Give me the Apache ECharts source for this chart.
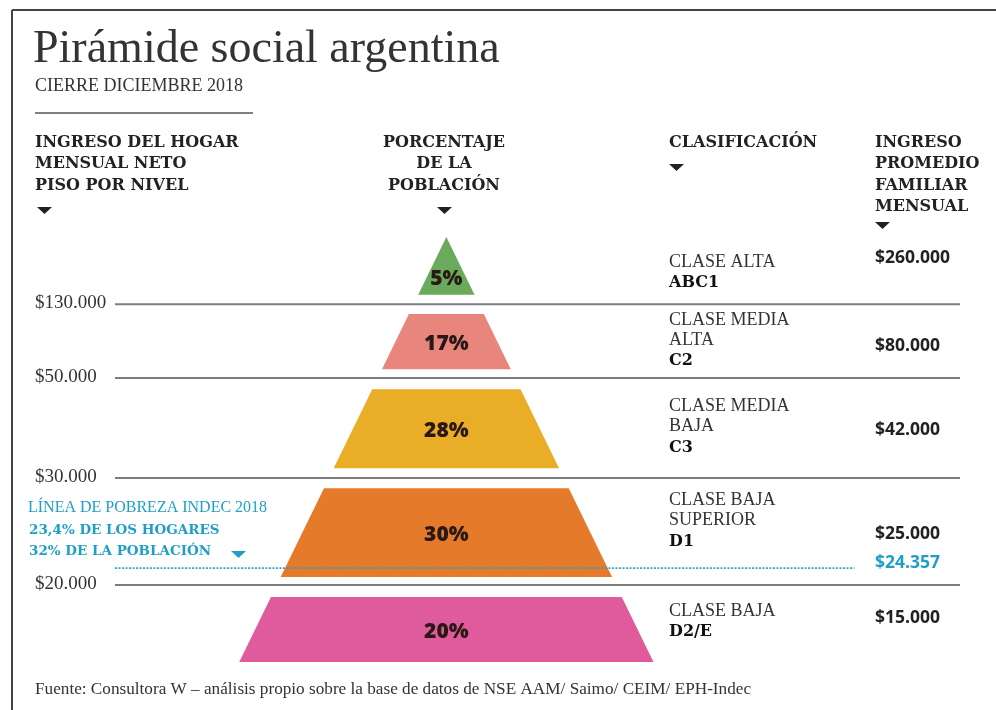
<!DOCTYPE html>
<html><head><meta charset="utf-8">
<script src="https://cdn.jsdelivr.net/npm/echarts@6/dist/echarts.min.js"></script>
<style>html,body{margin:0;padding:0;background:#fff}#c{width:996px;height:710px}</style>
</head><body><div id="c"></div>
<script>
// ---- data ----
const clasificacion = ['CLASE ALTA', 'CLASE MEDIA\nALTA', 'CLASE MEDIA\nBAJA', 'CLASE BAJA\nSUPERIOR', 'CLASE BAJA'];
const codigos = ['ABC1', 'C2', 'C3', 'D1', 'D2/E'];
const porcentajePoblacion = [5, 17, 28, 30, 20];
const ingresoPromedio = [260000, 80000, 42000, 25000, 15000];
const ingresoPiso = [130000, 50000, 30000, 20000];
const lineaPobreza = 24357;
const pobrezaTexto = ['LÍNEA DE POBREZA INDEC 2018', '23,4% DE LOS HOGARES', '32% DE LA POBLACIÓN'];

// ---- layout (fractions of pyramid height, apex = 0, base = 1) ----
const bandEdges = [[0, 0.136], [0.181, 0.311], [0.358, 0.544], [0.591, 0.8], [0.847, 1]];
const sepY = [0.158, 0.332, 0.567, 0.819];
const povY = 0.779;
const classLabelY = [0.059, 0.195, 0.398, 0.619, 0.88];
const amountY = [0.049, 0.256, 0.454, 0.699, 0.896];
const povAmountY = 0.767;
const bandColors = ['#69aa5b', '#e8867e', '#e9ad28', '#e57a2a', '#df5b9b'];
const X_MIN = -1.6, X_MAX = 2.48;

const SERIF = '"Liberation Serif", serif';
const SLAB = '"DejaVu Serif", serif';
const SANS = '"Open Sans", sans-serif';
const CYAN = '#1f9fc8';
const fmt = v => '$' + String(v).replace(/\B(?=(\d{3})+(?!\d))/g, '.');

const chart = echarts.init(document.getElementById('c'), null, {renderer: 'canvas'});

function tri(x, y, color) {
  return {type: 'polygon', shape: {points: [[x, y], [x + 15, y], [x + 7.5, y + 7]]}, style: {fill: color}};
}
function txt(x, y, text, font, color, align) {
  return {type: 'text', x: x, y: y, style: {text: text, font: font, fill: color || '#222', align: align || 'left', verticalAlign: 'middle'}};
}

const graphics = [
  {type: 'line', shape: {x1: 12, y1: 10, x2: 996, y2: 10}, style: {stroke: '#444', lineWidth: 2}},
  {type: 'line', shape: {x1: 12, y1: 10, x2: 12, y2: 710}, style: {stroke: '#444', lineWidth: 2}},
  txt(33, 50, 'Pirámide social argentina', '46px ' + SERIF, '#333'),
  txt(35, 86, 'CIERRE DICIEMBRE 2018', '18px ' + SERIF, '#333'),
  {type: 'line', shape: {x1: 35, y1: 113, x2: 253, y2: 113}, style: {stroke: '#555', lineWidth: 1.5}},
  txt(35, 143, 'INGRESO DEL HOGAR', 'bold 16px ' + SLAB),
  txt(35, 164, 'MENSUAL NETO', 'bold 16px ' + SLAB),
  txt(35, 186, 'PISO POR NIVEL', 'bold 16px ' + SLAB),
  tri(37, 207, '#222'),
  txt(444, 143, 'PORCENTAJE', 'bold 16px ' + SLAB, '#222', 'center'),
  txt(444, 164, 'DE LA', 'bold 16px ' + SLAB, '#222', 'center'),
  txt(444, 186, 'POBLACIÓN', 'bold 16px ' + SLAB, '#222', 'center'),
  tri(437, 207, '#222'),
  txt(669, 143, 'CLASIFICACIÓN', 'bold 16px ' + SLAB),
  tri(669, 164, '#222'),
  txt(875, 143, 'INGRESO', 'bold 16px ' + SLAB),
  txt(875, 164, 'PROMEDIO', 'bold 16px ' + SLAB),
  txt(875, 186, 'FAMILIAR', 'bold 16px ' + SLAB),
  txt(875, 207, 'MENSUAL', 'bold 16px ' + SLAB),
  tri(875, 222, '#222'),
  txt(35, 689, 'Fuente: Consultora W – análisis propio sobre la base de datos de NSE AAM/ Saimo/ CEIM/ EPH-Indec', '17.2px ' + SERIF, '#333')
];

const option = {
  animation: false,
  backgroundColor: '#fff',
  grid: {left: 115, right: 36, top: 237, bottom: 48},
  xAxis: {type: 'value', min: X_MIN, max: X_MAX, show: false},
  yAxis: {type: 'value', min: 0, max: 1, inverse: true, show: false},
  graphic: graphics,
  series: [
    { // income floor separators + labels
      type: 'custom', z: 1,
      data: ingresoPiso.map((v, i) => [i, v]),
      renderItem: function (params, api) {
        const i = api.value(0);
        const a = api.coord([X_MIN, sepY[i]]), b = api.coord([X_MAX, sepY[i]]);
        return {type: 'group', children: [
          {type: 'line', shape: {x1: a[0], y1: a[1], x2: b[0], y2: b[1]}, style: {stroke: '#7d7d7d', lineWidth: 2}},
          {type: 'text', x: 35, y: a[1] - 1, style: {text: fmt(api.value(1)), font: '19px ' + SERIF, fill: '#333', verticalAlign: 'middle'}}
        ]};
      }
    },
    { // pyramid bands
      type: 'custom', z: 2,
      data: porcentajePoblacion.map((v, i) => [i, v]),
      renderItem: function (params, api) {
        const i = api.value(0);
        const t = bandEdges[i][0], b = bandEdges[i][1];
        const pts = [api.coord([-t, t]), api.coord([t, t]), api.coord([b, b]), api.coord([-b, b])];
        const labY = t === 0 ? t + (b - t) * 0.72 : (t + b) / 2 + 0.006;
        const c = api.coord([0, labY]);
        return {type: 'group', children: [
          {type: 'polygon', shape: {points: pts}, style: {fill: bandColors[i]}},
          {type: 'text', x: c[0], y: c[1], style: {text: api.value(1) + '%', font: '800 21px ' + SANS, fill: '#2a1815', align: 'center', verticalAlign: 'middle'}}
        ]};
      }
    },
    { // poverty line
      type: 'custom', z: 3,
      data: [[0, lineaPobreza]],
      renderItem: function (params, api) {
        const a = api.coord([X_MIN, povY]), b = api.coord([1.97, povY]);
        const ya = api.coord([0, povAmountY])[1];
        return {type: 'group', children: [
          {type: 'line', shape: {x1: a[0], y1: a[1], x2: b[0], y2: b[1]}, style: {stroke: CYAN, lineWidth: 1.6, lineDash: [2, 1.5], opacity: 0.9}},
          {type: 'text', x: 28, y: 508, style: {text: pobrezaTexto[0], font: '16px ' + SERIF, fill: CYAN, verticalAlign: 'middle'}},
          {type: 'text', x: 29, y: 530, style: {text: pobrezaTexto[1], font: 'bold 13.5px ' + SLAB, fill: CYAN, verticalAlign: 'middle'}},
          {type: 'text', x: 29, y: 551, style: {text: pobrezaTexto[2], font: 'bold 13.5px ' + SLAB, fill: CYAN, verticalAlign: 'middle'}},
          {type: 'polygon', shape: {points: [[231, 551], [246, 551], [238.5, 558]]}, style: {fill: CYAN}},
          {type: 'text', x: 875, y: ya, style: {text: fmt(api.value(1)), font: 'bold 17.5px ' + SANS, fill: CYAN, verticalAlign: 'middle'}}
        ]};
      }
    },
    { // classification + average income
      type: 'custom', z: 3,
      data: ingresoPromedio.map((v, i) => [i, v]),
      renderItem: function (params, api) {
        const i = api.value(0);
        const y0 = api.coord([0, classLabelY[i]])[1];
        const ya = api.coord([0, amountY[i]])[1];
        const lines = clasificacion[i].split('\n');
        const ch = lines.map((l, k) => ({type: 'text', x: 669, y: y0 + k * 20.5, style: {text: l, font: '18px ' + SERIF, fill: '#333', verticalAlign: 'middle'}}));
        ch.push({type: 'text', x: 669, y: y0 + lines.length * 20.7, style: {text: codigos[i], font: 'bold 16px ' + SLAB, fill: '#111', verticalAlign: 'middle'}});
        ch.push({type: 'text', x: 875, y: ya, style: {text: fmt(api.value(1)), font: 'bold 17.5px ' + SANS, fill: '#222', verticalAlign: 'middle'}});
        return {type: 'group', children: ch};
      }
    }
  ]
};
chart.setOption(option);
</script>
</body></html>
